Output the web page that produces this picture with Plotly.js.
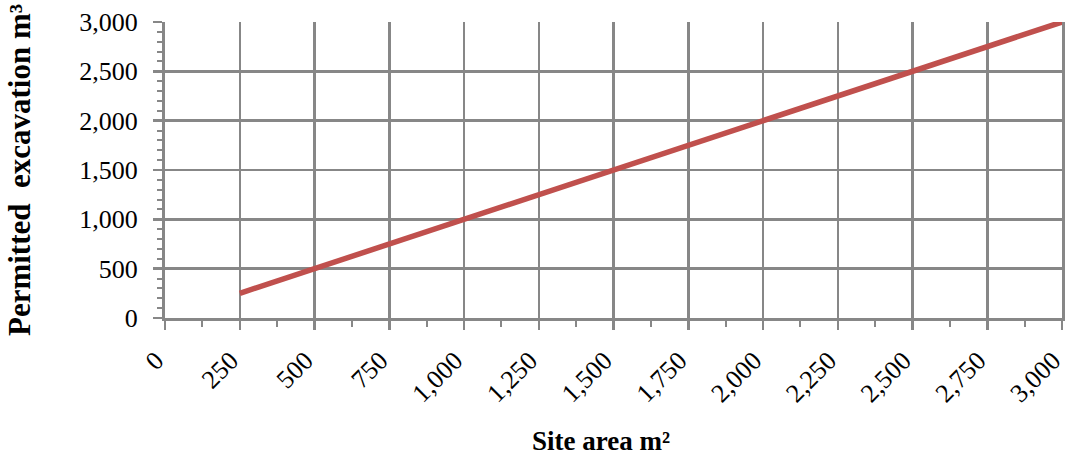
<!DOCTYPE html>
<html><head><meta charset="utf-8">
<script src="https://cdn.plot.ly/plotly-3.0.1.min.js"></script>
<style>html,body{margin:0;padding:0;background:#fff}#c{width:1067px;height:461px}</style>
</head><body><div id="c"></div>
<script>
var siteArea = [250, 500, 750, 1000, 1250, 1500, 1750, 2000, 2250, 2500, 2750, 3000];
var permittedExcavation = [250, 500, 750, 1000, 1250, 1500, 1750, 2000, 2250, 2500, 2750, 3000];
var xTickVals = [0, 250, 500, 750, 1000, 1250, 1500, 1750, 2000, 2250, 2500, 2750, 3000];
var yTickVals = [0, 500, 1000, 1500, 2000, 2500, 3000];
var xTitle = 'Site area m²';
var yTitle = 'Permitted&nbsp; excavation m³';
var gridCol = '#878787';
var font = 'Liberation Serif, Times New Roman, serif';
Plotly.newPlot('c', [{
  x: siteArea, y: permittedExcavation, type: 'scatter', mode: 'lines',
  line: {color: '#C0504D', width: 5.5}, hoverinfo: 'none', cliponaxis: false
}], {
  width: 1067, height: 461,
  margin: {l: 165, r: 5, t: 22, b: 143},
  paper_bgcolor: '#fff', plot_bgcolor: '#fff',
  showlegend: false,
  font: {family: font, color: '#000', size: 26},
  xaxis: {
    range: [0, 3000], tickmode: 'array', tickvals: xTickVals,
    ticktext: xTickVals.map(function(v){return v.toLocaleString('en-US');}),
    tickangle: -45, ticklabeloverflow: 'allow', ticklabelstandoff: 5, ticklabelshift: -9,
    showgrid: true, gridcolor: gridCol, gridwidth: 2.5,
    showline: true, linecolor: gridCol, linewidth: 3, mirror: false,
    ticks: 'outside', ticklen: 9, tickwidth: 2.5, tickcolor: gridCol,
    minor: {tickmode: 'linear', tick0: 125, dtick: 250, ticks: 'outside', ticklen: 6, tickwidth: 2, tickcolor: gridCol, showgrid: false},
    zeroline: false, fixedrange: true,
    tickfont: {family: font, size: 26, color: '#000'}
  },
  yaxis: {
    range: [0, 3000], tickmode: 'array', tickvals: yTickVals,
    ticktext: yTickVals.map(function(v){return v.toLocaleString('en-US');}),
    ticklabeloverflow: 'allow', ticklabelstandoff: 10,
    showgrid: true, gridcolor: gridCol, gridwidth: 2.5,
    showline: true, linecolor: gridCol, linewidth: 3, mirror: true,
    ticks: 'outside', ticklen: 9, tickwidth: 2.5, tickcolor: gridCol,
    minor: {tickmode: 'linear', tick0: 0, dtick: 100, ticks: 'outside', ticklen: 5, tickwidth: 2, tickcolor: gridCol, showgrid: false},
    zeroline: false, fixedrange: true,
    tickfont: {family: font, size: 26, color: '#000'},
    title: {text: '<b>' + yTitle + '</b>', font: {family: font, size: 31, color: '#000'}, standoff: 40}
  },
  annotations: [{
    text: '<b>' + xTitle + '</b>', xref: 'paper', yref: 'paper',
    x: 0.486, y: -0.415, xanchor: 'center', yanchor: 'middle', showarrow: false,
    font: {family: font, size: 27, color: '#000'}
  }]
}, {staticPlot: true});
</script></body></html>
